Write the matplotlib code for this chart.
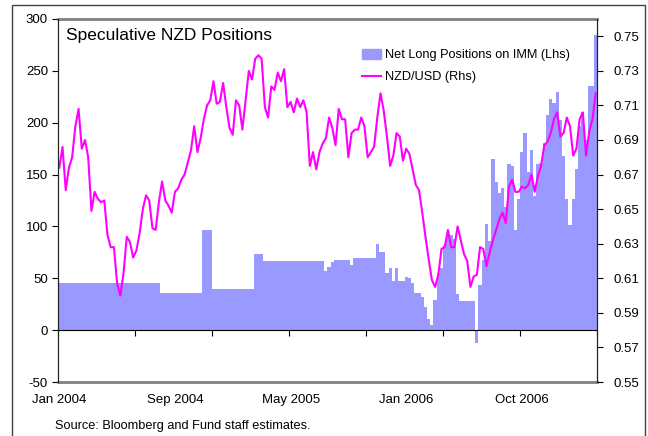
import numpy as np
import matplotlib
matplotlib.use("Agg")
import matplotlib.pyplot as plt
from matplotlib.patches import Rectangle
from matplotlib.lines import Line2D

plt.rcParams['font.family'] = ['Liberation Sans', 'DejaVu Sans']
plt.rcParams['axes.unicode_minus'] = False

# weekly observations, Jan 2004 - Mar 2007
positions = [45, 45, 45, 45, 45, 45, 45, 45, 45, 45, 45, 45, 45, 45, 45, 45,
             45, 45, 45, 45, 45, 45, 45, 45, 45, 45, 45, 45, 45, 45, 45, 45,
             36, 36, 36, 36, 36, 36, 36, 36, 36, 36, 36, 36, 36,
             97, 97, 97,
             40, 40, 40, 40, 40, 40, 40, 40, 40, 40, 40, 40, 40,
             73, 73, 73,
             67, 67, 67, 67, 67, 67, 67, 67, 67, 67, 67, 67, 67, 67, 67, 67, 67, 67, 67,
             57, 61, 66, 68, 68, 68, 68, 68, 63,
             70, 70, 70, 70, 70, 70, 70,
             83, 75, 75, 55, 60, 47, 60, 47, 47, 51, 50, 45, 36, 36, 32, 22, 11, 5,
             29, 55, 60, 82, 92, 92, 88, 35, 28, 28, 28, 28, 28, -12, 44, 68, 102, 86,
             165, 143, 132, 137, 119, 160, 158, 97, 126, 172, 190, 152, 174, 129, 160,
             161, 180, 207, 223, 219, 230, 203, 168, 126, 101, 126, 155, 197, 210, 183,
             235, 235, 285]

nzdusd = [0.674, 0.686, 0.661, 0.674, 0.680, 0.698, 0.708, 0.685, 0.690, 0.680,
          0.649, 0.660, 0.656, 0.654, 0.655, 0.635, 0.628, 0.628, 0.607, 0.600,
          0.613, 0.634, 0.631, 0.622, 0.626, 0.636, 0.650, 0.658, 0.655, 0.639,
          0.638, 0.654, 0.666, 0.655, 0.652, 0.648, 0.660, 0.662, 0.667, 0.670,
          0.677, 0.684, 0.698, 0.683, 0.691, 0.702, 0.710, 0.713, 0.724, 0.711,
          0.712, 0.723, 0.709, 0.697, 0.693, 0.713, 0.710, 0.696, 0.713, 0.730,
          0.725, 0.737, 0.739, 0.737, 0.709, 0.703, 0.721, 0.719, 0.729, 0.724,
          0.731, 0.709, 0.712, 0.706, 0.714, 0.709, 0.713, 0.706, 0.675, 0.683,
          0.673, 0.683, 0.688, 0.691, 0.703, 0.697, 0.687, 0.708, 0.702, 0.702,
          0.680, 0.694, 0.696, 0.696, 0.703, 0.698, 0.680, 0.683, 0.686, 0.703,
          0.717, 0.707, 0.692, 0.675, 0.681, 0.694, 0.692, 0.678, 0.685, 0.682,
          0.673, 0.664, 0.661, 0.648, 0.634, 0.621, 0.609, 0.605, 0.612, 0.627,
          0.628, 0.638, 0.628, 0.628, 0.640, 0.632, 0.624, 0.620, 0.605, 0.611,
          0.612, 0.628, 0.627, 0.617, 0.625, 0.632, 0.638, 0.644, 0.648, 0.642,
          0.663, 0.667, 0.660, 0.660, 0.663, 0.662, 0.664, 0.670, 0.660, 0.669,
          0.675, 0.687, 0.689, 0.694, 0.702, 0.706, 0.692, 0.694, 0.703, 0.698,
          0.681, 0.685, 0.702, 0.706, 0.681, 0.695, 0.702, 0.717]

date_labels = ["Jan 2004", "Sep 2004", "May 2005", "Jan 2006", "Oct 2006"]
label_pos = [0, 36, 72, 108, 144]

x = np.arange(len(positions))

fig = plt.figure(figsize=(6.48, 4.36), dpi=100)
ax = fig.add_axes([57.7/648, 1 - 382/436, (597.3-57.7)/648, (382-19)/436])

ax.bar(x, positions, width=1.0, color="#9999FF", linewidth=0, antialiased=False,
       label="Net Long Positions on IMM (Lhs)")
ax.set_xlim(-0.5, len(x) - 0.5)
ax.set_ylim(-50, 300)
ax.set_yticks(np.arange(-50, 301, 50))

ax2 = ax.twinx()
ax2.plot(x, nzdusd, color="#FF00FF", lw=1.5, label="NZD/USD (Rhs)")
ax2.set_ylim(0.55, 0.76)
ax2.set_yticks(np.arange(0.55, 0.751, 0.02))
ax2.set_yticklabels(["%.2f" % v for v in np.arange(0.55, 0.751, 0.02)])

# x axis crosses at zero
ax.spines['bottom'].set_position(('data', 0))
ax.spines['bottom'].set_color('black')
ax.set_xticks(np.arange(-0.5, len(x), 24))
ax.tick_params(axis='x', direction='out', length=4, labelbottom=False, color='black')
ax.tick_params(axis='y', direction='out', length=4, labelsize=9.5, pad=3)
ax2.tick_params(axis='y', direction='out', length=4, labelsize=9.5, pad=8)
for a in (ax, ax2):
    a.spines['top'].set_visible(False)
    a.spines['left'].set_color('#222222')
    a.spines['right'].set_color('#222222')
ax2.spines['bottom'].set_visible(False)

# grey plot area edges top & bottom
ax.axhline(300, color='#808080', lw=2, clip_on=False)
ax.axhline(-50, color='#808080', lw=2, clip_on=False)

for p, lab in zip(label_pos, date_labels):
    ax.text(p, -0.05, lab, transform=ax.get_xaxis_transform(), ha='center', va='center',
            fontsize=9.5)

ax.text(0.015, 0.955, "Speculative NZD Positions", transform=ax.transAxes,
        fontsize=12.5, va='center', ha='left')

handles = [Rectangle((0, 0), 1, 1, color="#9999FF"),
           Line2D([0], [0], color="#FF00FF", lw=1.5)]
ax2.legend(handles, ["Net Long Positions on IMM (Lhs)", "NZD/USD (Rhs)"],
           loc='upper left', bbox_to_anchor=((362-57.7)/540, 1 - 30/363),
           frameon=False, fontsize=9.2, handlelength=1.5, handleheight=0.8,
           handletextpad=0.3, labelspacing=0.75, borderaxespad=0, borderpad=0)

fig.text(55/648, 1 - 426/436, "Source: Bloomberg and Fund staff estimates.",
         fontsize=9.2, va='center', ha='left')

# outer frame
fig.patches.append(Rectangle((12/648, -0.05), (645-12)/648, 1.05 - 5/436,
                             transform=fig.transFigure, fill=False,
                             edgecolor='#404040', lw=1))

fig.savefig("out.png", dpi=100)
